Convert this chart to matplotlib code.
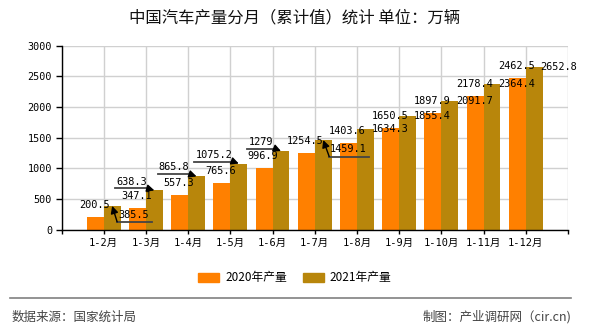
import matplotlib
matplotlib.use("Agg")
import matplotlib.pyplot as plt
from matplotlib.lines import Line2D
from matplotlib.patches import Patch
import numpy as np

plt.rcParams['font.family'] = ['Noto Sans CJK SC', 'DejaVu Sans']

# data
categories = ['1-2月', '1-3月', '1-4月', '1-5月', '1-6月', '1-7月',
              '1-8月', '1-9月', '1-10月', '1-11月', '1-12月']
prod_2020 = [200.5, 347.1, 557.3, 765.6, 996.9, 1254.5, 1403.6, 1650.5, 1897.9, 2178.4, 2462.5]
prod_2021 = [385.5, 638.3, 865.8, 1075.2, 1279, 1459.1, 1634.3, 1855.4, 2091.7, 2364.4, 2652.8]
series_names = ['2020年产量', '2021年产量']
y_ticks = [0, 500, 1000, 1500, 2000, 2500, 3000]

# label layout for 2021 (pixel offsets from bar top, and leader underline x0, x1, y)
gold_label_off = [(21, 9), (-23, -8), (-23, -9), (-25, -9), (-20, -9), (25, 8.5),
                  (24.5, 0), (24.5, 0), (24.5, 0), (24.5, 0), (24.5, 0)]
gold_leaders = [(40, 5, 16), (-39, -7, -2), (-39, -6, -2), (-45, -5.5, -2), (-34, -6, -2.5),
                (46, 6, 16.5), None, None, None, None, None]

c2020 = '#FF8000'
c2021 = '#B8860B'
num_font = ['DejaVu Sans Mono', 'Noto Sans CJK SC']

fig = plt.figure(figsize=(5.9, 3.3), dpi=100)
ax = fig.add_axes([61.5 / 590, 1 - 229.5 / 330, (568 - 61.5) / 590, (229.5 - 45.5) / 330])

x = np.arange(1, len(categories) + 1)
w = 0.4
ax.bar(x - w / 2, prod_2020, w, color=c2020, zorder=2)
ax.bar(x + w / 2, prod_2021, w, color=c2021, zorder=2)

ax.set_xlim(0, 12)
ax.set_ylim(0, 3000)
ax.set_yticks(y_ticks)
ax.set_yticklabels([str(t) for t in y_ticks], family=num_font, fontsize=7.3)
ax.set_xticks(np.arange(0, 13))
ax.set_xticklabels([''] + categories + [''], family=num_font, fontsize=7.5)
ax.tick_params(axis='y', length=4.3, width=1, pad=2.5, color='black')
ax.tick_params(axis='x', length=3, width=1, pad=3, color='black')
ax.grid(True, color='#d0d0d0', lw=1, zorder=0)
ax.set_axisbelow(True)
for s in ['top', 'right']:
    ax.spines[s].set_visible(False)
for s in ['left', 'bottom']:
    ax.spines[s].set_color('black')
    ax.spines[s].set_linewidth(1)


def off(xv, yv, dx, dy):
    px, py = ax.transData.transform((xv, yv))
    return ax.transData.inverted().transform((px + dx, py - dy))


# 2020 labels above bars
for xi, v in zip(x, prod_2020):
    p = off(xi - w / 2, v, -1, -12)
    ax.text(p[0], p[1], f'{v:g}', ha='center', va='center', family=num_font,
            fontsize=7.4, zorder=5, clip_on=False)

# 2021 labels with leader lines
for xi, v, (dx, dy), ld in zip(x, prod_2021, gold_label_off, gold_leaders):
    bx = xi + w / 2
    p = off(bx, v, dx, dy)
    ax.text(p[0], p[1], f'{v:g}', ha='center', va='center', family=num_font,
            fontsize=7.4, zorder=5, clip_on=False)
    if ld is not None:
        p0 = off(bx, v, ld[0], ld[2])
        p1 = off(bx, v, ld[1], ld[2])
        ax.plot([p0[0], p1[0]], [p0[1], p1[1]], color='#444444', lw=1.3, zorder=4)
        ax.annotate('', xy=(bx, v), xytext=(p1[0], p1[1]),
                    arrowprops=dict(arrowstyle='-|>', color='black', lw=1,
                                    mutation_scale=11, shrinkA=0, shrinkB=0), zorder=4)

fig.text(0.5, 1 - 17.5 / 330, '中国汽车产量分月（累计值）统计 单位：万辆', ha='center', va='center',
         fontsize=11.8, color='#111111')

handles = [Patch(color=c2020), Patch(color=c2021)]
fig.legend(handles, series_names, loc='center', bbox_to_anchor=(0.5, 1 - 278 / 330),
           ncol=2, frameon=False, fontsize=8.5, handlelength=1.78, handleheight=0.76,
           handletextpad=0.5, columnspacing=1.35)

fig.add_artist(Line2D([10 / 590, 571 / 590], [1 - 298 / 330, 1 - 298 / 330],
                      color='#808080', lw=1.2))
fig.text(12 / 590, 1 - 317 / 330, '数据来源：国家统计局', ha='left', va='center',
         fontsize=9, color='#444444')
fig.text(571 / 590, 1 - 317 / 330, '制图：产业调研网（cir.cn)', ha='right', va='center',
         fontsize=9, color='#444444')

fig.savefig('out.png', dpi=100)
